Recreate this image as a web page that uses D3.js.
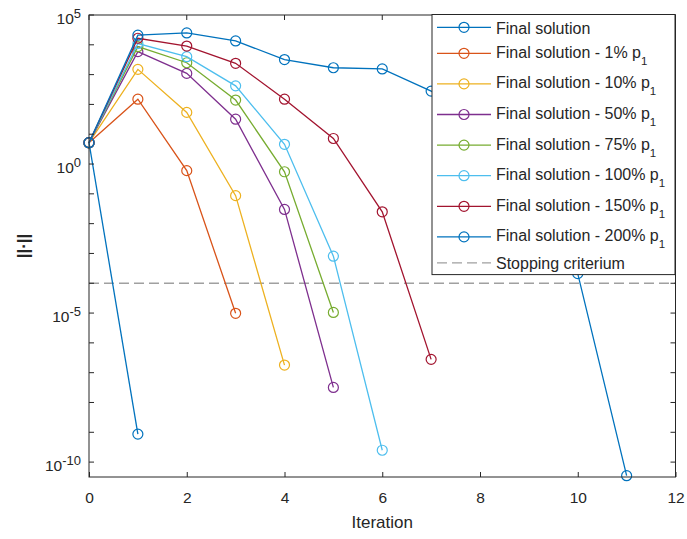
<!DOCTYPE html>
<html>
<head>
<meta charset="utf-8">
<script src="https://cdn.jsdelivr.net/npm/d3@7"></script>
<style>
  html, body { margin: 0; padding: 0; background: #fff; }
  svg { display: block; font-family: "Liberation Sans", Arial, Helvetica, sans-serif; }
</style>
</head>
<body>
<svg id="chart" width="687" height="539"></svg>
<script>
// Residual norm per iteration for each run
const seriesNames = [
  "Final solution",
  "Final solution - 1% p",
  "Final solution - 10% p",
  "Final solution - 50% p",
  "Final solution - 75% p",
  "Final solution - 100% p",
  "Final solution - 150% p",
  "Final solution - 200% p"
];
const seriesSub = ["", "1", "1", "1", "1", "1", "1", "1"];

const finalSolution = [5.2, 8.7e-10];
const final1 = [5.2, 150, 0.6, 9.8e-6];
const final10 = [5.2, 1500, 54, 0.087, 1.8e-7];
const final50 = [5.2, 5900, 1100, 32, 0.03, 3.2e-8];
const final75 = [5.2, 8700, 2500, 140, 0.55, 1.05e-5];
const final100 = [5.2, 11000, 4000, 420, 4.6, 8.1e-4, 2.5e-10];
const final150 = [5.2, 16600, 9100, 2400, 150, 7.2, 0.025, 2.8e-7];
const final200 = [5.2, 21000, 25000, 13500, 3200, 1700, 1550, 280, 15, 0.15, 2.1e-4, 3.5e-11];

const stoppingCriterion = 1e-4;

const xTicks = [0, 2, 4, 6, 8, 10, 12];
const yLabelExps = [-10, -5, 0, 5];
const yTickExps = d3.range(-10, 6);

const colors = ["#0072BD", "#D95319", "#EDB120", "#7E2F8E", "#77AC30", "#4DBEEE", "#A2142F", "#0072BD"];
const allSeries = [finalSolution, final1, final10, final50, final75, final100, final150, final200];

const svg = d3.select("#chart");
const axisColor = "#262626";
const L = 89, R = 675.5, T = 15, B = 477;

const x = d3.scaleLinear().domain([0, 12]).range([L, R]);
const y = d3.scaleLog().domain([Math.pow(10, -10.5), 1e5]).range([B, T]);

// Stopping criterion
svg.append("line")
  .attr("x1", L).attr("x2", R)
  .attr("y1", y(stoppingCriterion)).attr("y2", y(stoppingCriterion))
  .attr("stroke", "#a0a0a0").attr("stroke-width", 1.3)
  .attr("stroke-dasharray", "10,5");

// Series lines and markers
const line = d3.line().x((d, i) => x(i)).y(d => y(d));
allSeries.forEach((vals, k) => {
  const g = svg.append("g");
  g.append("path").datum(vals)
    .attr("d", line)
    .attr("fill", "none")
    .attr("stroke", colors[k])
    .attr("stroke-width", 1.3);
  g.selectAll("circle").data(vals).join("circle")
    .attr("cx", (d, i) => x(i))
    .attr("cy", d => y(d))
    .attr("r", 5)
    .attr("fill", "none")
    .attr("stroke", colors[k])
    .attr("stroke-width", 1.2);
});

// Axes box
svg.append("rect")
  .attr("x", L).attr("y", T).attr("width", R - L).attr("height", B - T)
  .attr("fill", "none").attr("stroke", axisColor).attr("stroke-width", 1);

// X ticks (bottom & top, pointing inward)
const xAxis = svg.append("g").attr("transform", `translate(0,${B})`)
  .call(d3.axisBottom(x).tickValues(xTicks).tickSize(-5).tickPadding(14.5).tickFormat(d3.format("d")));
xAxis.select(".domain").remove();
xAxis.selectAll("line").attr("stroke", axisColor);
xAxis.selectAll("text").attr("fill", axisColor).attr("font-size", 15.5)
  .attr("font-family", "Liberation Sans, Arial, sans-serif");

svg.append("g").selectAll("line").data(xTicks).join("line")
  .attr("x1", d => x(d)).attr("x2", d => x(d))
  .attr("y1", T).attr("y2", T + 5)
  .attr("stroke", axisColor);

// Y ticks at every decade (left & right, inward)
const yt = svg.append("g");
yTickExps.forEach(e => {
  const yy = y(Math.pow(10, e));
  yt.append("line").attr("x1", L).attr("x2", L + 5).attr("y1", yy).attr("y2", yy).attr("stroke", axisColor);
  yt.append("line").attr("x1", R).attr("x2", R - 5).attr("y1", yy).attr("y2", yy).attr("stroke", axisColor);
});
yLabelExps.forEach(e => {
  const yy = y(Math.pow(10, e));
  const t = yt.append("text")
    .attr("x", 81).attr("y", yy + 9)
    .attr("text-anchor", "end")
    .attr("fill", axisColor)
    .attr("font-size", 15.5);
  t.append("tspan").text("10");
  t.append("tspan").attr("font-size", 13).attr("dy", -6.5).text(String(e));
});

// Axis titles
svg.append("text")
  .attr("x", x(6)).attr("y", 528)
  .attr("text-anchor", "middle")
  .attr("fill", axisColor).attr("font-size", 17)
  .text("Iteration");

svg.append("text")
  .attr("transform", `translate(29,${(T + B) / 2}) rotate(-90)`)
  .attr("text-anchor", "middle")
  .attr("fill", axisColor).attr("font-size", 17).attr("font-weight", "bold")
  .text("||·||");

// Legend
const legX = 432, legY = 14.5, legW = 243;
const plainH = 21.4, subH = 30.6;
const entries = seriesNames.map((n, i) => ({ name: n, sub: seriesSub[i], color: colors[i], dashed: false }))
  .concat([{ name: "Stopping criterium", sub: "", color: "#a0a0a0", dashed: true }]);
let cursor = legY + 2.1;
entries.forEach(en => {
  const h = en.sub ? subH : plainH;
  en.cy = cursor + h / 2;
  cursor += h;
});
const legH = cursor + 1 - legY;

const leg = svg.append("g");
leg.append("rect")
  .attr("x", legX).attr("y", legY).attr("width", legW).attr("height", legH)
  .attr("fill", "#fff").attr("stroke", axisColor).attr("stroke-width", 1);

entries.forEach(en => {
  leg.append("line")
    .attr("x1", 437).attr("x2", 491)
    .attr("y1", en.cy).attr("y2", en.cy)
    .attr("stroke", en.color).attr("stroke-width", 1.3)
    .attr("stroke-dasharray", en.dashed ? "10,5" : null);
  if (!en.dashed) {
    leg.append("circle")
      .attr("cx", 464).attr("cy", en.cy).attr("r", 5)
      .attr("fill", "none").attr("stroke", en.color).attr("stroke-width", 1.2);
  }
  const t = leg.append("text")
    .attr("x", 496)
    .attr("y", en.cy + (en.sub ? 4.4 : 6.2))
    .attr("fill", axisColor).attr("font-size", 16);
  t.append("tspan").text(en.name);
  if (en.sub) {
    t.append("tspan").attr("font-size", 11.5).attr("dy", 7).text(en.sub);
  }
});
</script>
</body>
</html>
